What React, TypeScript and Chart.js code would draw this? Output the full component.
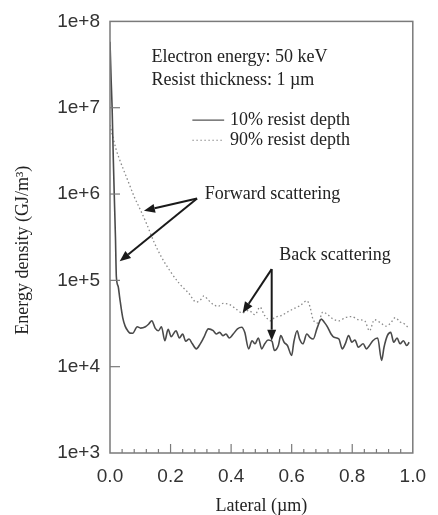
import React, { useEffect, useRef } from "react";
import { Chart, registerables } from "chart.js";

Chart.register(...registerables);

// 10% resist depth (solid)
const lateral10 = [
  0, 0.004, 0.007, 0.011, 0.014, 0.018, 0.021, 0.027, 0.032, 0.042,
  0.05, 0.058, 0.066, 0.075, 0.09, 0.101, 0.117, 0.128, 0.138, 0.149,
  0.16, 0.17, 0.181, 0.192, 0.202, 0.218, 0.229, 0.24, 0.25, 0.261,
  0.272, 0.285, 0.298, 0.309, 0.325, 0.341, 0.351, 0.362, 0.373, 0.383,
  0.394, 0.407, 0.421, 0.435, 0.445, 0.458, 0.469, 0.479, 0.49, 0.501,
  0.511, 0.522, 0.535, 0.543, 0.556, 0.564, 0.575, 0.586, 0.6, 0.607,
  0.618, 0.626, 0.637, 0.65, 0.66, 0.671, 0.684, 0.698, 0.708, 0.719,
  0.73, 0.74, 0.756, 0.767, 0.777, 0.788, 0.799, 0.809, 0.82, 0.836,
  0.847, 0.857, 0.868, 0.884, 0.897, 0.905, 0.916, 0.927, 0.937, 0.948,
  0.958, 0.969, 0.98, 0.988,
];
const density10 = [
  5.8e7, 2.0e7, 1.0e7, 2.5e6, 1.0e6, 3.2e5, 1.1e5, 8.5e4, 6.3e4, 3.7e4,
  2.95e4, 2.63e4, 2.45e4, 2.44e4, 2.9e4, 2.8e4, 2.9e4, 3.12e4, 3.41e4, 2.8e4,
  2.61e4, 2.9e4, 2.0e4, 2.71e4, 2.23e4, 2.61e4, 2.15e4, 2.39e4, 1.97e4, 2.09e4,
  1.84e4, 1.61e4, 1.84e4, 2.15e4, 2.74e4, 2.61e4, 2.39e4, 2.5e4, 2.29e4, 2.39e4,
  2.15e4, 2.39e4, 2.74e4, 2.86e4, 2.5e4, 1.61e4, 2.0e4, 1.84e4, 2.15e4, 1.61e4,
  1.84e4, 2.04e4, 1.97e4, 1.54e4, 1.76e4, 2.29e4, 1.92e4, 1.76e4, 1.35e4, 1.92e4,
  2.61e4, 2.09e4, 1.84e4, 2.39e4, 2.19e4, 2.09e4, 2.8e4, 3.56e4, 3.26e4, 2.86e4,
  2.39e4, 2.19e4, 2.09e4, 1.61e4, 1.84e4, 2.29e4, 1.92e4, 2.04e4, 1.68e4, 1.84e4,
  1.61e4, 1.76e4, 2.0e4, 2.15e4, 1.18e4, 1.68e4, 2.29e4, 2.5e4, 1.92e4, 2.15e4,
  1.84e4, 2.0e4, 1.76e4, 1.92e4,
];

// 90% resist depth (dotted)
const lateral90 = [
  0, 0.01, 0.02, 0.03, 0.045, 0.06, 0.08, 0.1, 0.12, 0.145,
  0.17, 0.2, 0.23, 0.26, 0.285, 0.3, 0.31, 0.325, 0.341, 0.357,
  0.373, 0.394, 0.415, 0.437, 0.458, 0.479, 0.495, 0.511, 0.532, 0.543,
  0.565, 0.586, 0.607, 0.628, 0.65, 0.66, 0.671, 0.687, 0.703, 0.719,
  0.735, 0.756, 0.777, 0.799, 0.82, 0.841, 0.857, 0.873, 0.895, 0.911,
  0.927, 0.942, 0.958, 0.974, 0.988,
];
const density90 = [
  6.3e6, 4.5e6, 3.3e6, 2.6e6, 1.9e6, 1.4e6, 9.3e5, 6.6e5, 4.6e5, 2.8e5,
  1.86e5, 1.26e5, 9.1e4, 7.1e4, 5.6e4, 6.0e4, 6.6e4, 5.9e4, 5.25e4, 5.0e4,
  5.4e4, 5.25e4, 4.7e4, 4.2e4, 4.5e4, 4.0e4, 4.9e4, 3.9e4, 3.4e4, 3.7e4,
  3.9e4, 4.3e4, 4.7e4, 5.1e4, 5.8e4, 5.0e4, 3.5e4, 3.2e4, 4.3e4, 4.0e4,
  3.6e4, 3.4e4, 3.7e4, 3.8e4, 3.5e4, 3.4e4, 2.6e4, 3.5e4, 3.2e4, 2.95e4,
  3.2e4, 3.7e4, 3.3e4, 3.1e4, 2.75e4,
];

const yTickValues = [1e3, 1e4, 1e5, 1e6, 1e7, 1e8];
const yTickLabels = ["1e+3", "1e+4", "1e+5", "1e+6", "1e+7", "1e+8"];
const xTickValues = [0, 0.2, 0.4, 0.6, 0.8, 1.0];
const xTickLabels = ["0.0", "0.2", "0.4", "0.6", "0.8", "1.0"];
const xMinorStep = 0.04;

const seriesNames = ["10% resist depth", "90% resist depth"];
const infoLines = ["Electron energy: 50 keV", "Resist thickness: 1 \u00b5m"];
const xTitle = "Lateral (\u00b5m)";
const yTitle = "Energy density (GJ/m\u00b3)";

// annotation anchors in data coordinates
const infoAnchor = { x: 0.137, y: [3.85e7, 2.09e7] };
const legendAnchor = { x0: 0.272, x1: 0.377, xt: 0.396, y: [7.2e6, 4.2e6] };
const forwardLabel = { text: "Forward scattering", x: 0.313, y: 1.0e6 };
const backLabel = { text: "Back scattering", x: 0.559, y: 1.95e5 };
const forwardArrows = [
  { from: [0.2875, 8.9e5], to: [0.112, 6.4e5] },
  { from: [0.2875, 8.9e5], to: [0.032, 1.66e5] },
];
const backArrows = [
  { from: [0.534, 1.35e5], to: [0.438, 4.2e4] },
  { from: [0.534, 1.35e5], to: [0.534, 2.0e4] },
];

const SERIF = '"Liberation Serif", "Times New Roman", serif';
const SANS = '"Liberation Sans", Arial, sans-serif';

const decorPlugin = {
  id: "decor",
  afterDraw(chart: any) {
    const { ctx, chartArea: a, scales } = chart;
    const xs = scales.x;
    const ys = scales.y;
    const px = (v: number) => xs.getPixelForValue(v);
    const py = (v: number) => ys.getPixelForValue(v);
    ctx.save();

    // frame
    ctx.strokeStyle = "#7a7a7a";
    ctx.lineWidth = 1.5;
    ctx.strokeRect(a.left, a.top, a.right - a.left, a.bottom - a.top);

    // x ticks (inward)
    ctx.lineWidth = 1.2;
    const nMinor = Math.round(1 / xMinorStep);
    for (let i = 1; i < nMinor; i++) {
      const v = i * xMinorStep;
      const major = xTickValues.some((t) => Math.abs(t - v) < 1e-6);
      const x = px(v);
      ctx.beginPath();
      ctx.moveTo(x, a.bottom);
      ctx.lineTo(x, a.bottom - (major ? 9 : 4));
      ctx.stroke();
    }
    // y ticks (inward)
    yTickValues.forEach((v) => {
      const y = py(v);
      if (Math.abs(y - a.top) < 2 || Math.abs(y - a.bottom) < 2) return;
      ctx.beginPath();
      ctx.moveTo(a.left, y);
      ctx.lineTo(a.left + 10, y);
      ctx.stroke();
    });

    // text
    ctx.fillStyle = "#222";
    ctx.font = "18px " + SERIF;
    ctx.textBaseline = "middle";
    ctx.textAlign = "left";
    infoLines.forEach((t, i) => ctx.fillText(t, px(infoAnchor.x), py(infoAnchor.y[i])));

    // legend
    seriesNames.forEach((t, i) => {
      const y = py(legendAnchor.y[i]);
      ctx.beginPath();
      ctx.strokeStyle = i === 0 ? "#555" : "#8a8a8a";
      ctx.lineWidth = i === 0 ? 1.3 : 1.2;
      ctx.setLineDash(i === 0 ? [] : [1.5, 2.5]);
      ctx.moveTo(px(legendAnchor.x0), y);
      ctx.lineTo(px(legendAnchor.x1), y);
      ctx.stroke();
      ctx.setLineDash([]);
      ctx.fillText(t, px(legendAnchor.xt), y);
    });

    ctx.fillText(forwardLabel.text, px(forwardLabel.x), py(forwardLabel.y));
    ctx.fillText(backLabel.text, px(backLabel.x), py(backLabel.y));

    // arrows
    const arrow = (from: number[], to: number[]) => {
      const x1 = px(from[0]), y1 = py(from[1]);
      const x2 = px(to[0]), y2 = py(to[1]);
      const ang = Math.atan2(y2 - y1, x2 - x1);
      const hl = 11, hw = 4.5;
      const bx = x2 - hl * Math.cos(ang), by = y2 - hl * Math.sin(ang);
      ctx.strokeStyle = "#1a1a1a";
      ctx.fillStyle = "#1a1a1a";
      ctx.lineWidth = 2;
      ctx.beginPath();
      ctx.moveTo(x1, y1);
      ctx.lineTo(bx, by);
      ctx.stroke();
      ctx.beginPath();
      ctx.moveTo(x2, y2);
      ctx.lineTo(bx + hw * Math.sin(ang), by - hw * Math.cos(ang));
      ctx.lineTo(bx - hw * Math.sin(ang), by + hw * Math.cos(ang));
      ctx.closePath();
      ctx.fill();
    };
    forwardArrows.forEach((r) => arrow(r.from, r.to));
    backArrows.forEach((r) => arrow(r.from, r.to));

    // axis titles
    ctx.fillStyle = "#222";
    ctx.font = "18px " + SERIF;
    ctx.textAlign = "center";
    ctx.textBaseline = "middle";
    ctx.fillText(xTitle, (a.left + a.right) / 2, chart.height - 9);
    ctx.save();
    ctx.translate(23, (a.top + a.bottom) / 2 + 13);
    ctx.rotate(-Math.PI / 2);
    ctx.fillText(yTitle, 0, 0);
    ctx.restore();

    ctx.restore();
  },
};

export default function App() {
  const ref = useRef<HTMLCanvasElement | null>(null);
  useEffect(() => {
    document.body.style.margin = "0";
    const canvas = ref.current!;
    const chart = new Chart(canvas, {
      type: "line",
      data: {
        datasets: [
          {
            label: seriesNames[0],
            data: lateral10.map((x, i) => ({ x, y: density10[i] })),
            borderColor: "#4a4a4a",
            borderWidth: 1.6,
            pointRadius: 0,
            cubicInterpolationMode: "monotone",
            fill: false,
          },
          {
            label: seriesNames[1],
            data: lateral90.map((x, i) => ({ x, y: density90[i] })),
            borderColor: "#8a8a8a",
            borderWidth: 1.3,
            borderDash: [1.5, 2.5],
            pointRadius: 0,
            cubicInterpolationMode: "monotone",
            fill: false,
          },
        ],
      },
      options: {
        animation: false,
        responsive: false,
        devicePixelRatio: 1,
        layout: { padding: { top: 19, right: 15, left: 0, bottom: 0 } },
        plugins: { legend: { display: false }, tooltip: { enabled: false } },
        scales: {
          x: {
            type: "linear",
            min: 0,
            max: 1,
            grid: { display: false, drawTicks: false },
            border: { display: false },
            afterBuildTicks: (s: any) => {
              s.ticks = xTickValues.map((value) => ({ value }));
            },
            afterFit: (s: any) => {
              s.height = 62;
            },
            ticks: {
              padding: 12,
              color: "#333",
              font: { family: SANS, size: 19 },
              maxRotation: 0,
              callback: (_v: any, i: number) => xTickLabels[i],
            },
          },
          y: {
            type: "logarithmic",
            min: 1e3,
            max: 1e8,
            grid: { display: false, drawTicks: false },
            border: { display: false },
            afterBuildTicks: (s: any) => {
              s.ticks = yTickValues.map((value) => ({ value }));
            },
            afterFit: (s: any) => {
              s.width = 110;
            },
            ticks: {
              padding: 10,
              color: "#333",
              font: { family: SANS, size: 19 },
              callback: (_v: any, i: number) => yTickLabels[i],
            },
          },
        },
      } as any,
      plugins: [decorPlugin],
    });
    return () => chart.destroy();
  }, []);
  return (
    <div style={{ width: 438, height: 515, background: "#fff" }}>
      <canvas ref={ref} width={438} height={515} style={{ display: "block" }} />
    </div>
  );
}
